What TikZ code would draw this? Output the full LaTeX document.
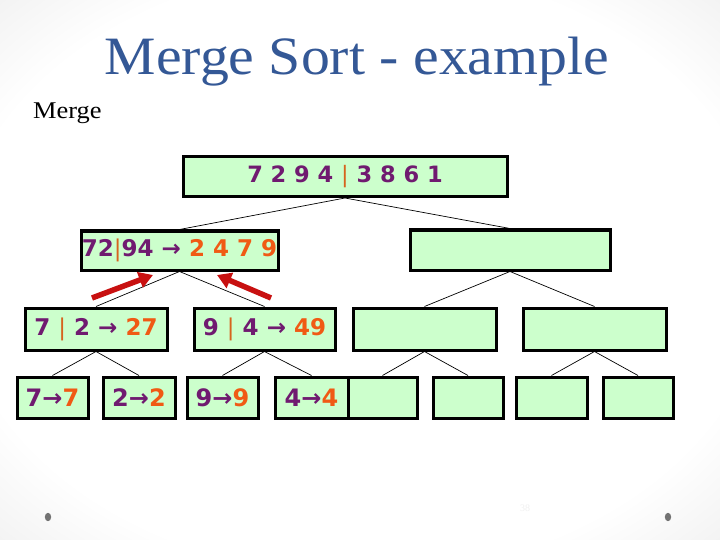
\documentclass[tikz,border=0pt]{standalone}
\usepackage{fontspec}
\setmainfont{Liberation Serif}
\newfontfamily\boxfont{DejaVu Sans}
\usetikzlibrary{arrows.meta}
\definecolor{pur}{RGB}{112,26,112}
\definecolor{org}{RGB}{240,90,20}
\definecolor{barc}{RGB}{214,100,30}
\definecolor{boxfill}{RGB}{204,255,204}
\definecolor{titleblue}{RGB}{52,88,150}
\definecolor{redarrow}{RGB}{200,16,16}
\pgfdeclareradialshading{bgshade}{\pgfpoint{0bp}{0bp}}{color(0bp)=(white); color(28bp)=(white); color(50bp)=(black!14); color(72bp)=(black!20)}
\tikzset{
  mbox/.style={draw=black, line width=3pt, fill=boxfill, inner sep=0pt, anchor=center,
    font=\boxfont\bfseries\fontsize{23}{26}\selectfont},
  leafbox/.style={mbox, font=\boxfont\bfseries\fontsize{24}{26}\selectfont},
  conn/.style={draw=black, line width=0.7pt},
  redarr/.style={draw=redarrow, line width=5.5pt, -{Triangle[length=14pt,width=16pt]}},
}
\newcommand{\mypu}[1]{\textcolor{pur}{#1}}
\newcommand{\myor}[1]{\textcolor{org}{#1}}
\newcommand{\mybar}{\textcolor{barc}{\mdseries|}}
\begin{document}
\begin{tikzpicture}[x=1pt,y=-1pt]
\useasboundingbox (0,0) rectangle (720,540);
\shade[shading=bgshade] (0,0) rectangle (720,540);
% title
\node[anchor=base, text=titleblue, font=\fontsize{54}{60}\selectfont, xscale=1.07, inner sep=0pt] (title) at (357,75) {Merge Sort - example};
\node[anchor=base west, inner sep=0pt, font=\fontsize{24}{28}\selectfont, xscale=1.1] (merge) at (33,119) {Merge};
% boxes
\node[mbox, minimum width=324pt, minimum height=40pt, font=\boxfont\bfseries\fontsize{22.5}{26}\selectfont] (root) at (345,176.5) {\mypu{7 2 9 4} \mybar{} \mypu{3 8 6 1}};
\node[mbox, minimum width=197pt, minimum height=39pt] (l1a) at (179.5,250.5) {\mypu{72}\mybar\mypu{94 →} \myor{2 4 7 9}};
\node[mbox, minimum width=200pt, minimum height=40pt] (l1b) at (510,250) {};
\node[mbox, minimum width=142pt, minimum height=42pt] (l2a) at (96,329) {\mypu{7} \mybar{} \mypu{2 →} \myor{27}};
\node[mbox, minimum width=141pt, minimum height=42pt] (l2b) at (264.5,329) {\mypu{9} \mybar{} \mypu{4 →} \myor{49}};
\node[mbox, minimum width=143pt, minimum height=42pt] (l2c) at (424.5,329) {};
\node[mbox, minimum width=143pt, minimum height=42pt] (l2d) at (594.5,329) {};
\node[leafbox, minimum width=71pt, minimum height=41pt] (l3a) at (52.5,397.5) {\mypu{7→}\myor{7}};
\node[leafbox, minimum width=72pt, minimum height=41pt] (l3b) at (139,397.5) {\mypu{2→}\myor{2}};
\node[leafbox, minimum width=71pt, minimum height=41pt] (l3c) at (222.5,397.5) {\mypu{9→}\myor{9}};
\node[leafbox, minimum width=73pt, minimum height=41pt] (l3d) at (311.5,397.5) {\mypu{4→}\myor{4}};
\node[leafbox, minimum width=69pt, minimum height=41pt] (l3e) at (382.5,397.5) {};
\node[leafbox, minimum width=70pt, minimum height=41pt] (l3f) at (468,397.5) {};
\node[leafbox, minimum width=71pt, minimum height=41pt] (l3g) at (551.5,397.5) {};
\node[leafbox, minimum width=70pt, minimum height=41pt] (l3h) at (638,397.5) {};
% connectors
\draw[conn] (root.south) -- (l1a.north);
\draw[conn] (root.south) -- (l1b.north);
\draw[conn] (l1a.south) -- (l2a.north);
\draw[conn] (l1a.south) -- (l2b.north);
\draw[conn] (l1b.south) -- (l2c.north);
\draw[conn] (l1b.south) -- (l2d.north);
\draw[conn] (l2a.south) -- (l3a.north);
\draw[conn] (l2a.south) -- (l3b.north);
\draw[conn] (l2b.south) -- (l3c.north);
\draw[conn] (l2b.south) -- (l3d.north);
\draw[conn] (l2c.south) -- (l3e.north);
\draw[conn] (l2c.south) -- (l3f.north);
\draw[conn] (l2d.south) -- (l3g.north);
\draw[conn] (l2d.south) -- (l3h.north);
% red arrows
\coordinate (ra1s) at (92,298);
\coordinate (ra1e) at (153,275);
\coordinate (ra2s) at (271,298);
\coordinate (ra2e) at (217,275);
\draw[redarr] (ra1s) -- (ra1e);
\draw[redarr] (ra2s) -- (ra2e);
% footer
\fill[black!55] (48,517) ellipse (3.2pt and 4.2pt);
\fill[black!55] (668,517) ellipse (3.2pt and 4.2pt);
\node[text=black!6, font=\fontsize{10}{12}\selectfont, inner sep=0pt] (pagenum) at (525,508) {38};
\end{tikzpicture}
\end{document}
